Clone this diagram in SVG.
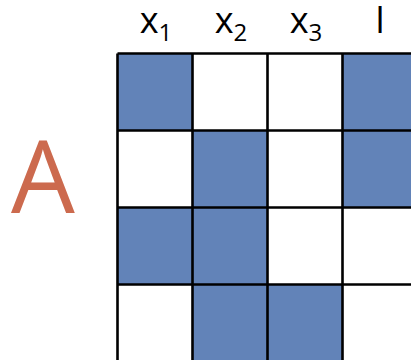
<svg xmlns="http://www.w3.org/2000/svg" width="411" height="360" viewBox="0 0 411 360">
<style>
.on{fill:#6283B8}
.off{fill:#FFFFFF}
.grid{stroke:#000;stroke-width:2.6;fill:none}
.lbl{font-family:"Open Sans","Liberation Sans",sans-serif;font-size:36px;fill:#000;text-anchor:middle}
.sub{font-size:24px}
.big{font-family:"Open Sans","Liberation Sans",sans-serif;font-size:101px;fill:#CC6A4E;text-anchor:middle}
</style>
<rect width="411" height="360" fill="#fff"/>
<g id="label-A"><text class="big" x="43" y="213">A</text></g>
<g id="headers">
<text class="lbl" x="156" y="33">x<tspan class="sub" dy="8">1</tspan></text>
<text class="lbl" x="231" y="33">x<tspan class="sub" dy="8">2</tspan></text>
<text class="lbl" x="306" y="33">x<tspan class="sub" dy="8">3</tspan></text>
<text class="lbl" x="380" y="33">l</text>
</g>
<g id="cells">
<rect id="c11" class="on" x="117.5" y="53.5" width="75" height="77"/>
<rect id="c12" class="off" x="192.5" y="53.5" width="75" height="77"/>
<rect id="c13" class="off" x="267.5" y="53.5" width="75" height="77"/>
<rect id="c14" class="on" x="342.5" y="53.5" width="75" height="77"/>
<rect id="c21" class="off" x="117.5" y="130.5" width="75" height="77"/>
<rect id="c22" class="on" x="192.5" y="130.5" width="75" height="77"/>
<rect id="c23" class="off" x="267.5" y="130.5" width="75" height="77"/>
<rect id="c24" class="on" x="342.5" y="130.5" width="75" height="77"/>
<rect id="c31" class="on" x="117.5" y="207.5" width="75" height="77"/>
<rect id="c32" class="on" x="192.5" y="207.5" width="75" height="77"/>
<rect id="c33" class="off" x="267.5" y="207.5" width="75" height="77"/>
<rect id="c34" class="off" x="342.5" y="207.5" width="75" height="77"/>
<rect id="c41" class="off" x="117.5" y="284.5" width="75" height="77"/>
<rect id="c42" class="on" x="192.5" y="284.5" width="75" height="77"/>
<rect id="c43" class="on" x="267.5" y="284.5" width="75" height="77"/>
<rect id="c44" class="off" x="342.5" y="284.5" width="75" height="77"/>
</g>
<g id="grid" class="grid">
<path d="M117.5 53.5V362M192.5 53.5V362M267.5 53.5V362M342.5 53.5V362M117.5 53.5H412M117.5 130.5H412M117.5 207.5H412M117.5 284.5H412"/>
</g>
</svg>
